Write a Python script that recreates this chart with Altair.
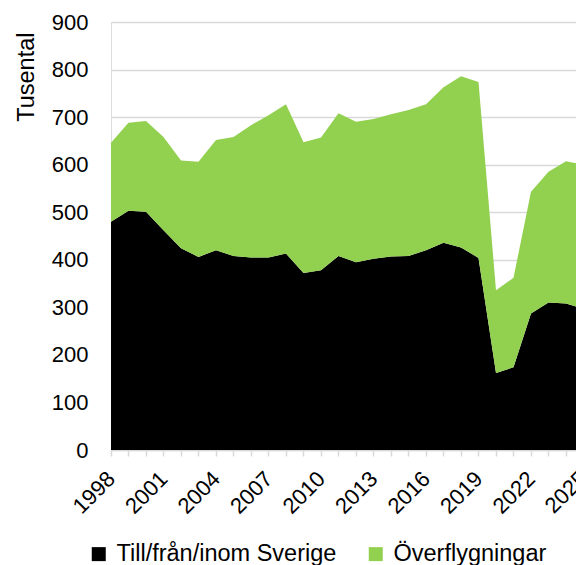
import altair as alt
import pandas as pd

years = list(range(1998, 2026))
sverige = [480, 503, 501, 462, 424, 406, 420, 408, 405, 405, 413, 372, 378, 408,
           395, 402, 407, 408, 420, 436, 426, 404, 162, 174, 287, 310, 308, 297]
overflyg = [166, 185, 191, 196, 185, 200, 232, 250, 278, 299, 314, 275, 279, 300,
            295, 294, 299, 307, 307, 327, 360, 370, 174, 188, 256, 275, 299, 303]
series = ["Till/från/inom Sverige", "Överflygningar"]
colors = ["#000000", "#92D050"]
label_years = [y for y in years if (y - 1998) % 3 == 0]

rows = []
for y, a, b in zip(years, sverige, overflyg):
    rows.append({"year": y, "serie": series[0], "value": a, "ord": 0})
    rows.append({"year": y, "serie": series[1], "value": b, "ord": 1})
df = pd.DataFrame(rows)

font = "Liberation Sans"
W, H = 465, 428
# visible x-range: the plot is cut by the page edge just before 2025, as in the reference
x_scale = alt.Scale(domain=[1998, 1998 + W / 17.5], nice=False, zero=False, padding=0)
x_axis = alt.Axis(values=years,
                  labelExpr="(datum.value - 1998) % 3 == 0 ? '' + datum.value : ''",
                  labelAngle=-45, labelAlign="right", labelBaseline="middle",
                  labelPadding=19, labelOverlap=False, labelFontSize=22,
                  labelFont=font, labelColor="#000000", grid=False,
                  domainColor="#d9d9d9", domainWidth=1.5, tickColor="#d9d9d9",
                  tickWidth=1.5, tickSize=6, title=None)
y_scale = alt.Scale(domain=[0, 900], nice=False)
y_axis = alt.Axis(values=list(range(0, 901, 100)), grid=True, gridColor="#d9d9d9",
                  gridWidth=1.5, domain=False, ticks=False, labelFontSize=22,
                  labelFont=font, labelColor="#000000", labelPadding=23,
                  title="Tusental", titleFont=font, titleFontSize=23.5,
                  titleFontWeight="normal", titleColor="#000000", titleAngle=-90,
                  titleX=-78, titleY=10, titleAlign="right",
                  titleBaseline="alphabetic")

area = alt.Chart(df).mark_area(interpolate="linear", opacity=1, clip=True).encode(
    x=alt.X("year:Q", scale=x_scale, axis=x_axis),
    y=alt.Y("value:Q", stack="zero", scale=y_scale, axis=y_axis),
    color=alt.Color("serie:N", scale=alt.Scale(domain=series, range=colors),
                    legend=alt.Legend(orient="none", legendX=-24, legendY=520,
                                      direction="horizontal", title=None,
                                      symbolType="square", symbolSize=196,
                                      symbolStrokeWidth=0, symbolOpacity=1,
                                      labelFontSize=23.5, labelFont=font, labelLimit=0,
                                      labelColor="#000000", labelOffset=6,
                                      columnPadding=27, padding=0)),
    order=alt.Order("ord:Q"),
)

# label of the last year, which lies just past the visible plot edge
last = pd.DataFrame({"year": [label_years[-1]], "label": [str(label_years[-1])]})
last_label = alt.Chart(last).mark_text(
    angle=315, align="right", baseline="middle", font=font, fontSize=22, color="#000000"
).encode(
    x=alt.X("year:Q", scale=x_scale, axis=x_axis),
    y=alt.value(H + 6 + 19),
    text="label:N",
)

chart = alt.layer(area, last_label).properties(
    width=W, height=H,
    autosize=alt.AutoSizeParams(type="none"),
    padding={"left": 103, "top": 14, "right": 0, "bottom": 115},
).configure_view(stroke=None).configure(background="white")

chart.save("out.html", embed_options={"renderer": "svg", "actions": False})
